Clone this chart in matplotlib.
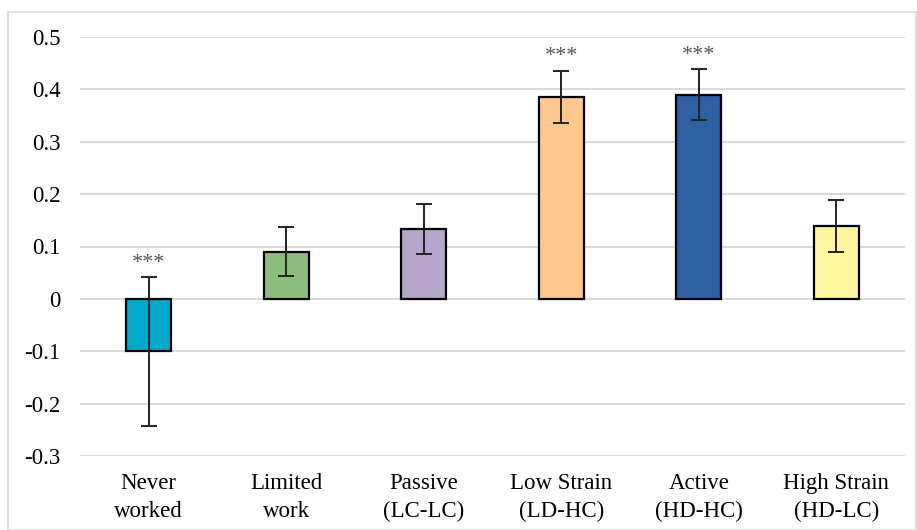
import numpy as np
import matplotlib.pyplot as plt
from matplotlib.patches import Rectangle

categories = ["Never\nworked", "Limited\nwork", "Passive\n(LC-LC)", "Low Strain\n(LD-HC)",
              "Active\n(HD-HC)", "High Strain\n(HD-LC)"]
values = [-0.10, 0.09, 0.134, 0.386, 0.39, 0.139]
errors = [0.142, 0.047, 0.048, 0.05, 0.049, 0.05]
stars = ["***", "", "", "***", "***", ""]
colors = ["#00A8CC", "#8BBD7F", "#B6A6CC", "#FFC88F", "#2E60A4", "#FFF59E"]

plt.rcParams['font.family'] = ['Liberation Serif', 'DejaVu Serif']

fig = plt.figure(figsize=(9.17, 5.30), dpi=100)
ax = fig.add_axes([80 / 917, 1 - 456 / 530, 825 / 917, 419 / 530])

x = np.arange(len(categories))
ax.bar(x, values, width=0.33, color=colors, edgecolor="black", linewidth=1.6, zorder=3)
ax.errorbar(x, values, yerr=errors, fmt="none", ecolor="#222222", elinewidth=1.4,
            capsize=6, capthick=1.4, zorder=4)
for xi, v, e, s in zip(x, values, errors, stars):
    if s:
        ax.text(xi, v + e + 0.008, s, ha="center", va="bottom", fontsize=16, color="#555555")

ax.set_xlim(-0.5, len(categories) - 0.5)
ax.set_ylim(-0.3, 0.5)
ax.set_yticks(np.arange(-0.3, 0.51, 0.1))
ax.set_yticklabels(["-0.3", "-0.2", "-0.1", "0", "0.1", "0.2", "0.3", "0.4", "0.5"])
ax.set_xticks(x)
ax.set_xticklabels(categories, linespacing=1.45)
ax.yaxis.grid(True, color="#D9D9D9", linewidth=1.4, zorder=0)
ax.set_axisbelow(True)
for sp in ax.spines.values():
    sp.set_visible(False)
ax.tick_params(axis="both", length=0, labelsize=16.5)
ax.tick_params(axis="y", pad=14)
ax.tick_params(axis="x", pad=12)

fig.patches.append(Rectangle((8 / 917, 0), 908 / 917, 1 - 12 / 530, transform=fig.transFigure,
                             fill=False, edgecolor="#D9D9D9", linewidth=1.2))

fig.savefig("out.png", dpi=100)
